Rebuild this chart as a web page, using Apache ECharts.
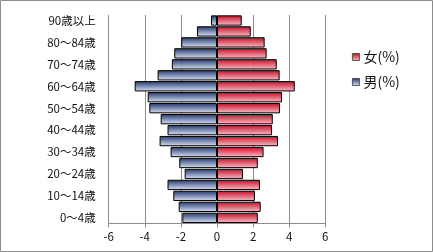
<!DOCTYPE html>
<html><head><meta charset="utf-8">
<script src="https://cdn.jsdelivr.net/npm/echarts@6/dist/echarts.min.js"></script>
<style>html,body{margin:0;padding:0;background:#fff}#c{width:433px;height:252px}</style>
</head><body><div id="c"></div>
<script>
const categories = ['0～4歳','5～9歳','10～14歳','15～19歳','20～24歳','25～29歳','30～34歳','35～39歳','40～44歳','45～49歳','50～54歳','55～59歳','60～64歳','65～69歳','70～74歳','75～79歳','80～84歳','85～89歳','90歳以上'];
const male = [-1.92,-2.12,-2.42,-2.74,-1.79,-2.09,-2.57,-3.18,-2.74,-3.12,-3.75,-3.84,-4.56,-3.29,-2.5,-2.37,-1.98,-1.11,-0.33];
const female = [2.26,2.42,2.1,2.38,1.44,2.26,2.58,3.38,3.05,3.09,3.49,3.6,4.31,3.47,3.31,2.75,2.64,1.87,1.37];
const xTicks = {min:-6, max:6, interval:2};

const font = '"Noto Sans CJK JP","Noto Sans",sans-serif';
const chart = echarts.init(document.getElementById('c'), null, {renderer:'canvas'});
const grad = (c1, c2) => new echarts.graphic.LinearGradient(0,0,0,1,[{offset:0,color:c1},{offset:1,color:c2}]);
chart.setOption({
  animation:false,
  graphic:[{type:'rect',shape:{x:0.5,y:0.5,width:432,height:251},style:{fill:'none',stroke:'#8c8c8c',lineWidth:1},silent:true}],
  grid:{left:108.7,right:107.7,top:15,bottom:28.7,containLabel:false},
  legend:{
    orient:'vertical', left:347, top:45, itemWidth:7, itemHeight:7, itemGap:11, itemStyle:{borderColor:'#333',borderWidth:0.8},
    data:['女(%)','男(%)'],
    textStyle:{fontFamily:font, fontSize:14, color:'#111', padding:[0,0,0,-1]},
    icon:'rect'
  },
  xAxis:{
    type:'value', min:xTicks.min, max:xTicks.max, interval:xTicks.interval,
    axisLine:{show:true,lineStyle:{color:'#8c8c8c',width:1}},
    axisTick:{show:true,length:4,lineStyle:{color:'#8c8c8c'}},
    axisLabel:{fontFamily:font,fontSize:11.5,color:'#111',margin:8},
    splitLine:{show:true,lineStyle:{color:'#8c8c8c',width:1}}
  },
  yAxis:{
    type:'category', data:categories,
    axisLine:{show:false}, axisTick:{show:false},
    axisLabel:{interval:1, fontFamily:font, fontSize:11.5, color:'#111', margin:13}
  },
  series:[
    {name:'男(%)', type:'bar', data:male, barGap:'-100%', barCategoryGap:'6%',
     itemStyle:{color:grad('#1f3570','#dfe5f1'), borderColor:'#000', borderWidth:1}},
    {name:'女(%)', type:'bar', data:female, barGap:'-100%', barCategoryGap:'6%',
     itemStyle:{color:grad('#c40a24','#f3c3cb'), borderColor:'#000', borderWidth:1}}
  ]
});
</script></body></html>
